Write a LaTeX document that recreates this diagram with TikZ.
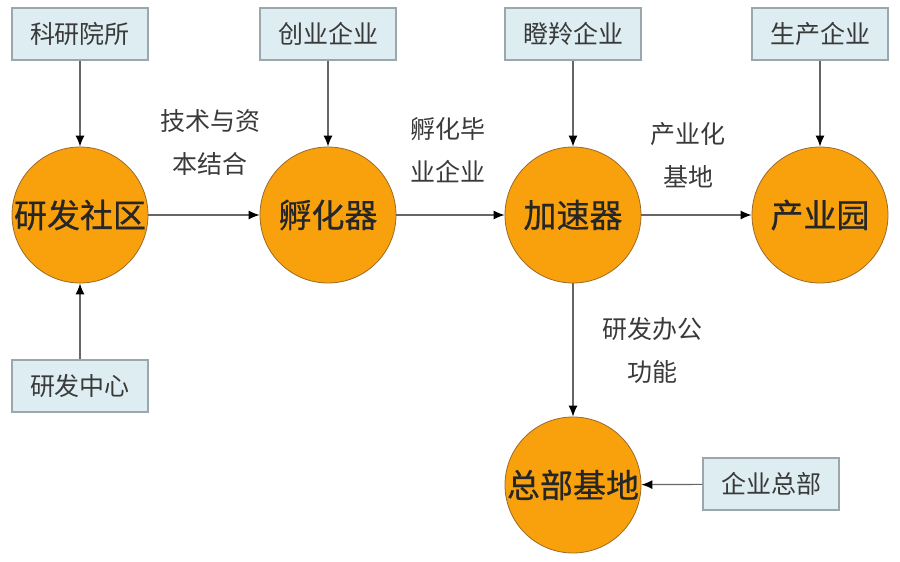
\documentclass[tikz,border=0pt]{standalone}
\usepackage{fontspec}
\setmainfont{Noto Sans CJK SC}
\newfontfamily\hubfont{Noto Sans CJK SC}[FakeBold=0.6]
\usetikzlibrary{arrows.meta}
\definecolor{hubfill}{HTML}{F8A10C}
\definecolor{hubline}{HTML}{9A6A2A}
\definecolor{srcfill}{HTML}{DDEDF2}
\definecolor{srcline}{HTML}{9AA7AC}
\definecolor{txtgray}{HTML}{3A3A3A}

\begin{document}
\begin{tikzpicture}[x=0.5pt, y=-0.5pt,
     hub/.style={circle, draw=hubline, line width=0.4pt, fill=hubfill, minimum size=68pt, inner sep=0pt, font=\hubfont\fontsize{16.5}{18}\selectfont, text=black!85},
     source/.style={rectangle, draw=srcline, line width=0.6pt, fill=srcfill, minimum width=68pt, minimum height=26pt, font=\fontsize{12.5}{14}\selectfont, text=txtgray},
     tag/.style={align=center, font=\fontsize{12.5}{21.5}\selectfont, text=txtgray},
     link/.style={draw=black!60, line width=0.6pt, -{Latex[length=5.5pt,width=4.5pt,color=black]}},]

   \useasboundingbox (0,0) rectangle (900,562);

   % main chain
   \node[hub] (community) at (80,215) {研发社区};
   \node[hub] (incubator) at (328,215) {孵化器};
   \node[hub] (accel) at (573,215) {加速器};
   \node[hub] (park) at (820,215) {产业园};
   \node[hub] (hq) at (573,485) {总部基地};

   % feeders
   \node[source] (inst) at (80,34) {科研院所};
   \node[source] (rdc) at (80,386) {研发中心};
   \node[source] (startup) at (328,34) {创业企业};
   \node[source] (gazelle) at (573,34) {瞪羚企业};
   \node[source] (maker) at (820,34) {生产企业};
   \node[source] (corp) at (771,484) {企业总部};

   % labels
   \node[tag] (t1) at (210,142) {技术与资\\本结合};
   \node[tag] (t2) at (448,150) {孵化毕\\业企业};
   \node[tag] (t3) at (688,155) {产业化\\基地};
   \node[tag] (t4) at (652,350) {研发办公\\功能};

   \draw[link] (inst) -- (community);
   \draw[link] (rdc) -- (community);
   \draw[link] (startup) -- (incubator);
   \draw[link] (gazelle) -- (accel);
   \draw[link] (maker) -- (park);
   \draw[link] (community) -- (incubator);
   \draw[link] (incubator) -- (accel);
   \draw[link] (accel) -- (park);
   \draw[link] (accel) -- (hq);
   \draw[link] (corp) -- (hq);
  \end{tikzpicture}
\end{document}
